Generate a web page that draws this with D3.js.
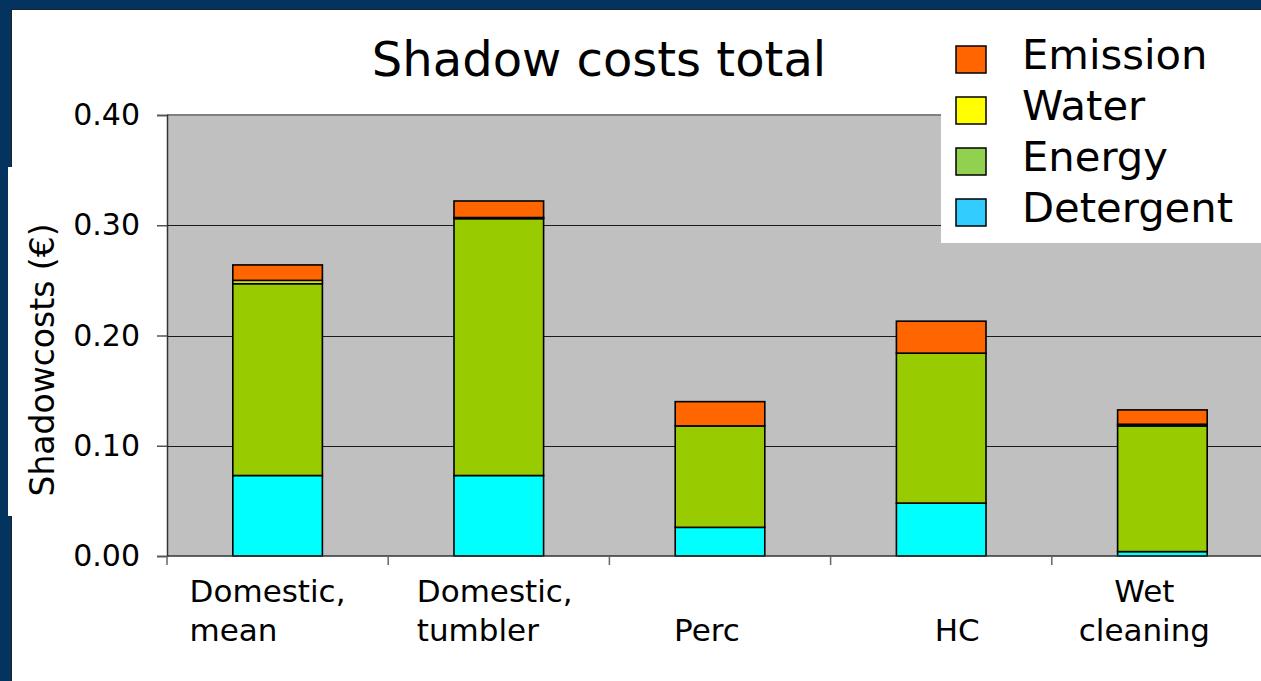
<!DOCTYPE html>
<html>
<head>
<meta charset="utf-8">
<script src="https://cdn.jsdelivr.net/npm/d3@7"></script>
<style>
  html, body { margin: 0; padding: 0; background: #03335f; }
  svg { display: block; }
  text { font-family: "DejaVu Sans", Verdana, sans-serif; fill: #000; }
</style>
</head>
<body>
<svg id="chart" width="1261" height="681"></svg>
<script>
// Shadow costs per cleaning method (euro), stacked by cost component
const categories = ["Domestic, mean", "Domestic, tumbler", "Perc", "HC", "Wet cleaning"];
const categoryLines = [["Domestic,", "mean"], ["Domestic,", "tumbler"], ["", "Perc"], ["", "HC"], ["Wet", "cleaning"]];
const detergent = [0.073, 0.073, 0.026, 0.048, 0.004];
const energy    = [0.174, 0.233, 0.092, 0.136, 0.114];
const water     = [0.003, 0.001, 0.000, 0.000, 0.0015];
const emission  = [0.014, 0.015, 0.022, 0.029, 0.013];
const seriesNames = ["Detergent", "Energy", "Water", "Emission"];
const yTicks = [0.00, 0.10, 0.20, 0.30, 0.40];

const barColors    = { Detergent: "#00ffff", Energy: "#99cc00", Water: "#ffff00", Emission: "#ff6600" };
const legendColors = { Detergent: "#33ccff", Energy: "#92d050", Water: "#ffff00", Emission: "#ff6600" };

const table = categories.map((c, i) => ({
  category: c,
  Detergent: detergent[i], Energy: energy[i], Water: water[i], Emission: emission[i]
}));
const stacked = d3.stack().keys(seriesNames)(table);

const svg = d3.select("#chart");
const W = 1261, H = 681;

// Slide frame: blue border with a white content panel
svg.append("rect").attr("width", W).attr("height", H).attr("fill", "#03335f");
svg.append("rect").attr("x", 11.5).attr("y", 9.5).attr("width", W).attr("height", H)
  .attr("fill", "#fff").attr("stroke", "#222").attr("stroke-width", 1);
svg.append("rect").attr("x", 8).attr("y", 167).attr("width", 40).attr("height", 349).attr("fill", "#fff");
[942, 1257].forEach(x => svg.append("line").attr("x1", x).attr("x2", x).attr("y1", 10).attr("y2", 15)
  .attr("stroke", "#333").attr("stroke-width", 1));

// Scales
const plot = { left: 167, right: 1273, top: 115, bottom: 556 };
const x = d3.scaleBand().domain(categories).range([plot.left, plot.right])
  .paddingInner(0.595).paddingOuter(0.2975);
const y = d3.scaleLinear().domain([0, 0.4]).range([plot.bottom, plot.top]);
const step = x.step();

// Plot background
svg.append("rect").attr("x", plot.left).attr("y", plot.top)
  .attr("width", plot.right - plot.left).attr("height", plot.bottom - plot.top)
  .attr("fill", "#c0c0c0");

// Gridlines
svg.append("g").selectAll("line").data(yTicks.filter(t => t > 0 && t < 0.4)).join("line")
  .attr("x1", plot.left).attr("x2", plot.right)
  .attr("y1", d => Math.round(y(d)) + 0.5).attr("y2", d => Math.round(y(d)) + 0.5)
  .attr("stroke", "#1a1a1a").attr("stroke-width", 1);
svg.append("line").attr("x1", plot.left).attr("x2", plot.right)
  .attr("y1", y(0.4)).attr("y2", y(0.4)).attr("stroke", "#808080").attr("stroke-width", 2);

// Stacked bars
svg.append("g").selectAll("g").data(stacked).join("g")
  .attr("fill", s => barColors[s.key])
  .selectAll("rect").data(s => s.filter(d => d[1] - d[0] > 0)).join("rect")
  .attr("x", d => x(d.data.category))
  .attr("width", x.bandwidth())
  .attr("y", d => y(d[1]))
  .attr("height", d => y(d[0]) - y(d[1]))
  .attr("stroke", "#000").attr("stroke-width", 1.6);

// Y axis
const yAxis = d3.axisLeft(y).tickValues(yTicks).tickFormat(d3.format(".2f")).tickSize(10).tickPadding(17);
const gy = svg.append("g").attr("transform", `translate(${plot.left},0)`).call(yAxis);
gy.select(".domain").attr("stroke", "#333").attr("stroke-width", 1.5);
gy.selectAll(".tick line").attr("stroke", "#555").attr("stroke-width", 1.5);
gy.selectAll(".tick text").attr("font-size", 30).attr("font-family", "DejaVu Sans").attr("fill", "#000");

// X axis line with ticks at category boundaries
const bounds = d3.range(categories.length + 1).map(i => plot.left + i * step);
svg.append("line").attr("x1", plot.left).attr("x2", plot.right)
  .attr("y1", plot.bottom).attr("y2", plot.bottom).attr("stroke", "#333").attr("stroke-width", 1.5);
svg.append("g").selectAll("line").data(bounds).join("line")
  .attr("x1", d => d).attr("x2", d => d)
  .attr("y1", plot.bottom).attr("y2", plot.bottom + 9)
  .attr("stroke", "#666").attr("stroke-width", 1.5);

// Category labels (two lines each)
const labelLayout = [
  { anchor: "start",  dx: -88 },
  { anchor: "start",  dx: -82 },
  { anchor: "middle", dx: -13 },
  { anchor: "middle", dx: 16 },
  { anchor: "middle", dx: -18 }
];
const lineBaselines = [602, 641];
categories.forEach((c, i) => {
  const cx = x(c) + x.bandwidth() / 2 + labelLayout[i].dx;
  categoryLines[i].forEach((line, j) => {
    if (!line) return;
    svg.append("text").attr("x", cx).attr("y", lineBaselines[j])
      .attr("text-anchor", labelLayout[i].anchor).attr("font-size", 31).text(line);
  });
});

// Axis title
svg.append("text")
  .attr("transform", "translate(54,360) rotate(-90)")
  .attr("text-anchor", "middle").attr("font-size", 33)
  .text("Shadowcosts (€)");

// Chart title
svg.append("text").attr("x", 599).attr("y", 76).attr("text-anchor", "middle")
  .attr("font-size", 48).text("Shadow costs total");

// Legend (top series first)
const legend = svg.append("g");
legend.append("rect").attr("x", 941).attr("y", 10).attr("width", W - 941).attr("height", 233).attr("fill", "#fff");
const legendOrder = ["Emission", "Water", "Energy", "Detergent"];
const legendRow = d3.scalePoint().domain(legendOrder).range([69, 222]);
legendOrder.forEach(k => {
  const by = legendRow(k);
  legend.append("rect").attr("x", 956).attr("y", by - 23).attr("width", 30).attr("height", 27)
    .attr("fill", legendColors[k]).attr("stroke", "#000").attr("stroke-width", 1.5);
  legend.append("text").attr("x", 1022).attr("y", by).attr("font-size", 41.7).text(k);
});
</script>
</body>
</html>
